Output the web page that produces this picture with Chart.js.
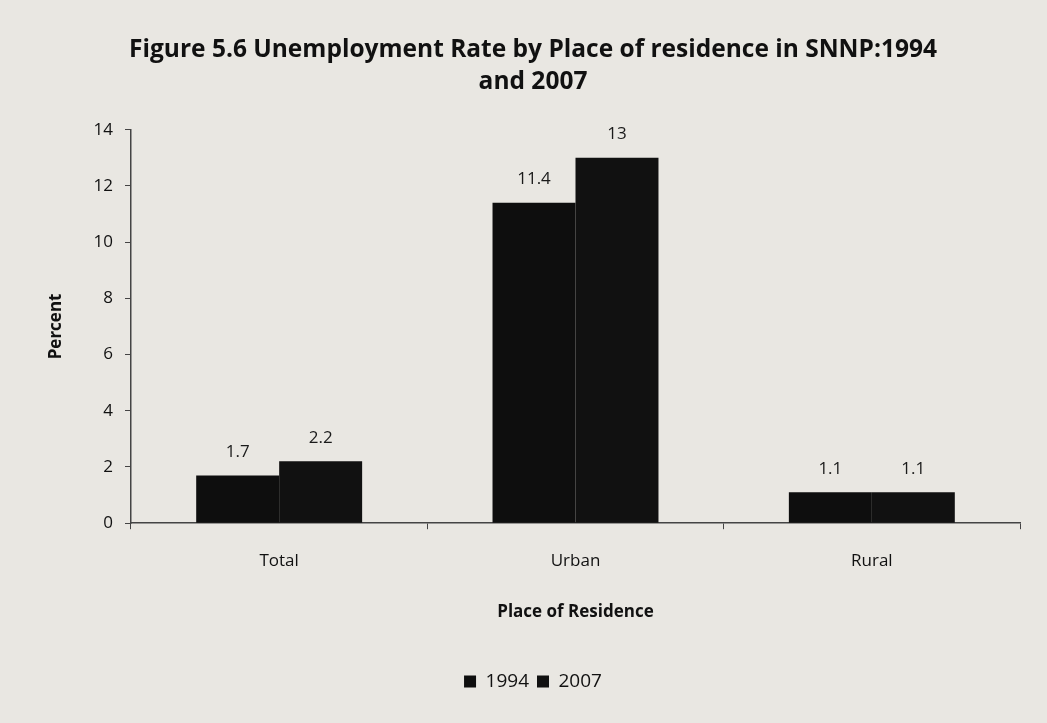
<!DOCTYPE html>
<html>
<head>
<meta charset="utf-8">
<script src="https://cdn.jsdelivr.net/npm/chart.js@4/dist/chart.umd.min.js"></script>
<style>
  html, body { margin: 0; padding: 0; background: #e9e7e2; }
  #wrap { width: 1047px; height: 723px; }
</style>
</head>
<body>
<div id="wrap"><canvas id="chart"></canvas></div>
<script>
const categories = ['Total', 'Urban', 'Rural'];
const values1994 = [1.7, 11.4, 1.1];
const values2007 = [2.2, 13, 1.1];
const yTicks = [0, 2, 4, 6, 8, 10, 12, 14];

const FONT = '"Open Sans", Lato, sans-serif';

// labels above each bar
const barLabels = {
    id: 'barLabels',
    afterDatasetsDraw(chart) {
        const ctx = chart.ctx;
        ctx.save();
        ctx.font = '17px ' + FONT;
        ctx.fillStyle = '#1a1a1a';
        ctx.textAlign = 'center';
        ctx.textBaseline = 'bottom';
        chart.data.datasets.forEach((ds, i) => {
            chart.getDatasetMeta(i).data.forEach((bar, j) => {
                ctx.fillText(String(ds.data[j]), bar.x, bar.y - 15);
            });
        });
        ctx.restore();
    }
};

new Chart(document.getElementById('chart'), {
    type: 'bar',
    data: {
        labels: categories,
        datasets: [
            { label: '1994', data: values1994, backgroundColor: '#0e0e0e' },
            { label: '2007', data: values2007, backgroundColor: '#111111' }
        ]
    },
    options: {
        responsive: true,
        maintainAspectRatio: false,
        animation: false,
        datasets: { bar: { barPercentage: 1, categoryPercentage: 0.56 } },
        layout: { padding: { left: 46, right: 27, top: 0, bottom: 22 } },
        plugins: {
            title: {
                display: true,
                text: ['Figure 5.6 Unemployment Rate by Place of residence in SNNP:1994', 'and 2007'],
                color: '#111',
                font: { family: FONT, size: 24.5, weight: 'bold', lineHeight: 1.3 },
                padding: { top: 34, bottom: 32 }
            },
            legend: {
                position: 'bottom',
                labels: {
                    color: '#111',
                    font: { family: FONT, size: 19 },
                    boxWidth: 12,
                    boxHeight: 12,
                    padding: 8
                }
            },
            tooltip: { enabled: false }
        },
        scales: {
            x: {
                grid: { display: true, offset: true, drawOnChartArea: false, tickLength: 6, color: '#444' },
                border: { color: '#444', width: 1.5 },
                ticks: { color: '#111', font: { family: FONT, size: 17 }, padding: 22 },
                title: {
                    display: true,
                    text: 'Place of Residence',
                    color: '#111',
                    font: { family: FONT, size: 17, weight: 'bold' },
                    padding: { top: 8, bottom: 42 }
                }
            },
            y: {
                min: 0,
                max: 14,
                afterBuildTicks: scale => { scale.ticks = yTicks.map(v => ({ value: v })); },
                afterFit: scale => { scale.width = 85; },
                grid: { display: true, drawOnChartArea: false, tickLength: 6, color: '#444' },
                border: { color: '#444', width: 1.5 },
                ticks: { color: '#111', font: { family: FONT, size: 17 }, padding: 12 },
                title: {
                    display: true,
                    text: 'Percent',
                    color: '#111',
                    font: { family: FONT, size: 17, weight: 'bold' },
                    padding: { top: 0, bottom: 8 }
                }
            }
        }
    },
    plugins: [barLabels]
});
</script>
</body>
</html>
